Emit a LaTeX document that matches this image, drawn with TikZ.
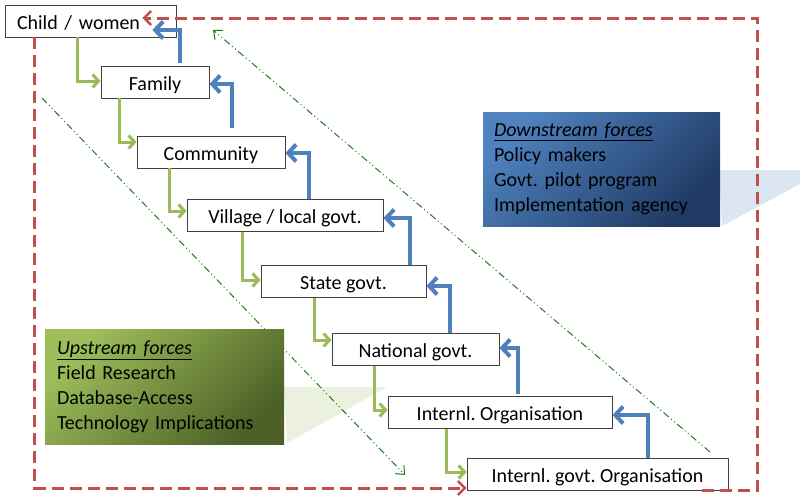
\documentclass[tikz,border=0pt]{standalone}
\usepackage{fontspec}
\setmainfont{Carlito}
\usetikzlibrary{arrows.meta}
\definecolor{cred}{HTML}{C0504D}
\definecolor{cgreen}{HTML}{9BBB59}
\definecolor{cblue}{HTML}{4F81BD}
\definecolor{cdd}{HTML}{1E7B1E}
\definecolor{dlight}{HTML}{4F82BE}
\definecolor{ddark}{HTML}{1F3A63}
\definecolor{ulight}{HTML}{9DBE5A}
\definecolor{udark}{HTML}{4D6127}
\definecolor{dcall}{HTML}{DCE6F2}
\definecolor{ucall}{HTML}{EBF1DE}
\begin{document}
\frenchspacing
\begin{tikzpicture}[x=1pt,y=-1pt,
  font=\fontsize{20}{24}\selectfont,
  box/.style={draw=black!75, line width=0.8pt, fill=white, minimum height=32pt, inner sep=0pt, text height=20pt, text depth=4pt},
  garrow/.style={draw=cgreen, line width=3pt, -{Straight Barb[length=6pt,width=13pt,line width=3pt]}},
  barrow/.style={draw=cblue, line width=4pt, -{Straight Barb[length=8pt,width=17pt,line width=4pt]}},
  reddash/.style={draw=cred, line width=3pt, dash pattern=on 12pt off 6pt, -{Straight Barb[length=7pt,width=14pt,line width=2.5pt]}},
  ddot/.style={draw=cdd, line width=1pt, dash pattern=on 7pt off 3pt on 1pt off 3pt on 1pt off 3pt, -{Straight Barb[length=7pt,width=12pt,line width=1pt]}},
  legend/.style={inner ysep=0pt, align=left, text=black, font=\fontsize{20}{25}\selectfont}
]
\useasboundingbox (0,0) rectangle (800,501);

% callout shapes
\fill[dcall] (719,170) -- (800,170) -- (800,184) -- (722,226) -- cycle;
\fill[ucall] (284,387) -- (387,387) -- (287,443) -- cycle;

% dash-dot lines
\coordinate (d1s) at (710,452);
\coordinate (d1e) at (213,30);
\coordinate (d2s) at (42,98);
\coordinate (d2e) at (405,475);
\draw[ddot] (d1s) -- (d1e);
\draw[ddot] (d2s) -- (d2e);

% legend boxes
\node[legend, minimum width=237pt, minimum height=114pt, text width=215pt, inner xsep=11pt,
  top color=dlight, bottom color=ddark, shading angle=45] (down) at (601.5,169)
  {\underline{\textit{Downstream forces}}\\Policy makers\\Govt. pilot program\\Implementation agency};
\node[legend, minimum width=239pt, minimum height=115pt, text width=215pt, inner xsep=12pt,
  top color=ulight, bottom color=udark, shading angle=45] (up) at (164.5,386.5)
  {\underline{\textit{Upstream forces}}\\Field Research\\Database-Access\\Technology Implications};

% boxes
\node[box, text width=147pt, align=left, inner xsep=12pt] (child) at (90.5,21) {Child / women};
\node[box, minimum width=108pt] (family) at (155,82) {Family};
\node[box, minimum width=148pt] (comm) at (211,152) {Community};
\node[box, minimum width=196pt] (vill) at (285,215.5) {Village / local govt.};
\node[box, minimum width=165pt] (state) at (343.5,281.5) {State govt.};
\node[box, minimum width=167pt] (nat) at (415.5,349.5) {National govt.};
\node[box, minimum width=224pt] (io) at (500,412.5) {Internl. Organisation};
\node[box, minimum width=261pt] (igo) at (597.5,474.5) {Internl. govt. Organisation};

% red dashed loop
\coordinate (rc) at (757,18);
\draw[reddash] ([xshift=-26pt]igo.south east) -| (rc) -- ([xshift=-34pt,yshift=3pt]child.east);
\draw[reddash] ([xshift=30pt]child.south west) |- ([yshift=-13.5pt]igo.west);

% green (downward) arrows
\draw[garrow] ([xshift=73pt]child.south west) |- ([yshift=1pt]family.west);
\draw[garrow] ([xshift=19pt]family.south west) |- ([yshift=10pt]comm.west);
\draw[garrow] ([xshift=33pt]comm.south west) |- ([yshift=4.5pt]vill.west);
\draw[garrow] ([xshift=56pt]vill.south west) |- ([yshift=1.5pt]state.west);
\draw[garrow] ([xshift=54pt]state.south west) |- ([yshift=9.5pt]nat.west);
\draw[garrow] ([xshift=43pt]nat.south west) |- ([yshift=2.5pt]io.west);
\draw[garrow] ([xshift=59pt]io.south west) |- ([yshift=2.5pt]igo.west);

% blue (upward) arrows
\draw[barrow, shorten <=3pt] ([xshift=79pt]family.north west) |- ([xshift=-24pt,yshift=-9pt]child.east);
\draw[barrow, shorten <=8pt] ([xshift=95pt]comm.north west) |- ([yshift=-2pt]family.east);
\draw[barrow] ([xshift=122pt]vill.north west) |- ([yshift=-1pt]comm.east);
\draw[barrow] ([xshift=149pt]state.north west) |- ([yshift=-2.5pt]vill.east);
\draw[barrow] ([xshift=118pt]nat.north west) |- ([yshift=-4.5pt]state.east);
\draw[barrow, shorten <=2pt] ([xshift=130pt]io.north west) |- ([yshift=1.5pt]nat.east);
\draw[barrow] ([xshift=181pt]igo.north west) |- ([yshift=-2.5pt]io.east);
\end{tikzpicture}
\end{document}
